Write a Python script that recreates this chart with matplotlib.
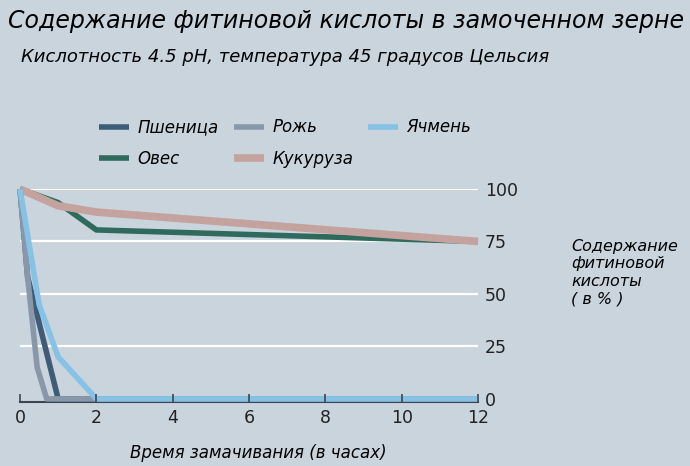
import matplotlib
matplotlib.use('Agg')
import matplotlib.pyplot as plt

# data
hours_wheat = [0, 0.2, 1, 12]
wheat = [100, 58, 0, 0]
hours_rye = [0, 0.2, 0.45, 0.7, 12]
rye = [100, 58, 15, 0, 0]
hours_barley = [0, 0.5, 1, 2, 12]
barley = [100, 45, 20, 0, 0]
hours_oats = [0, 1, 2, 12]
oats = [100, 93.5, 80.5, 75]
hours_corn = [0, 1, 2, 12]
corn = [100, 92, 89, 75]

xticks = [0, 2, 4, 6, 8, 10, 12]
yticks = [0, 25, 50, 75, 100]

bg = '#c9d4dd'
fig = plt.figure(figsize=(6.9, 4.66), dpi=100, facecolor=bg)
ax = fig.add_axes([20/690, 1-402/466, 458/690, 213/466], facecolor=bg)
ax.set_axisbelow(False)

for y in yticks[1:]:
    ax.axhline(y, color='white', lw=1.6, zorder=0)

ax.plot(hours_oats, oats, color='#2f6a5d', lw=4, solid_capstyle='butt', clip_on=False, label='Овес')
ax.plot(hours_corn, corn, color='#c4a29e', lw=5.5, solid_capstyle='butt', clip_on=False, label='Кукуруза')
ax.plot(hours_wheat, wheat, color='#3e5b78', lw=4, solid_capstyle='butt', clip_on=False, label='Пшеница')
ax.plot(hours_rye, rye, color='#8898a8', lw=4, solid_capstyle='butt', clip_on=False, label='Рожь')
ax.plot(hours_barley, barley, color='#86c1e6', lw=4, solid_capstyle='butt', clip_on=False, label='Ячмень')

ax.set_xlim(0, 12)
ax.set_ylim(-1.5, 100)
for s in ['top', 'left', 'right']:
    ax.spines[s].set_visible(False)
ax.spines['bottom'].set_color('#3a4656')
ax.spines['bottom'].set_linewidth(1.5)
ax.spines['bottom'].set_zorder(1.5)

ax.set_xticks(xticks)
ax.set_xticklabels([str(v) for v in xticks], fontsize=12.5, color='#222222')
ax.tick_params(axis='x', direction='in', length=6, width=1.2, color='#3a4656', pad=5)
ax.yaxis.tick_right()
ax.set_yticks(yticks)
ax.set_yticklabels([str(v) for v in yticks], fontsize=12.5, color='#222222')
ax.tick_params(axis='y', length=0, pad=5)

ax.set_xlabel('Время замачивания (в часах)', fontsize=12, fontstyle='italic', labelpad=12, x=0.52)

fig.text(0.828, 0.415, 'Содержание\nфитиновой\nкислоты\n( в % )', fontsize=11.5,
         fontstyle='italic', ha='left', va='center', linespacing=1.2)

fig.text(0.012, 0.955, 'Содержание фитиновой кислоты в замоченном зерне', fontsize=17,
         fontstyle='italic', ha='left', va='center')
fig.text(0.03, 0.878, 'Кислотность 4.5 pH, температура 45 градусов Цельсия', fontsize=13,
         fontstyle='italic', ha='left', va='center')

h, l = ax.get_legend_handles_labels()
order = [2, 0, 3, 1, 4]  # Пшеница, Овес, Рожь, Кукуруза, Ячмень
leg = fig.legend([h[i] for i in order], [l[i] for i in order], ncol=3,
                 loc='center left', bbox_to_anchor=(0.122, 0.693), frameon=False,
                 fontsize=12, handlelength=1.8, columnspacing=0.9, handletextpad=0.5,
                 labelspacing=0.8)
for t in leg.get_texts():
    t.set_fontstyle('italic')

fig.savefig('out.png', dpi=100, facecolor=bg)
